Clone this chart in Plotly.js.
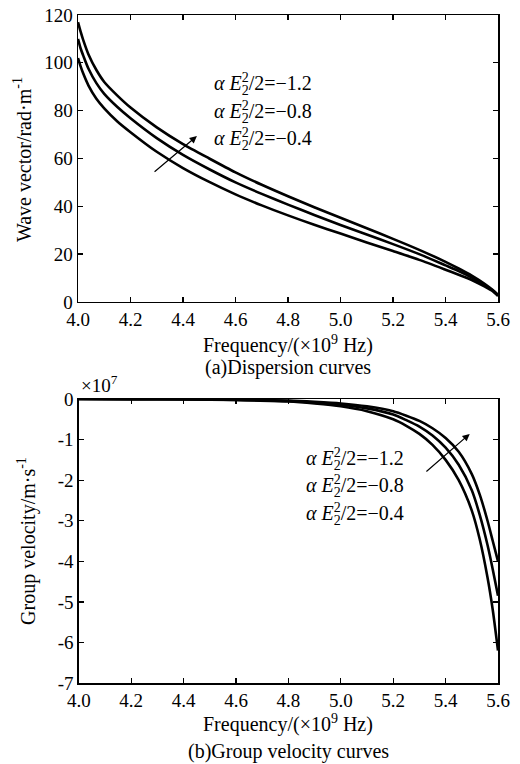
<!DOCTYPE html>
<html>
<head>
<meta charset="utf-8">
<script src="https://cdn.plot.ly/plotly-3.0.1.min.js"></script>
<style>html,body{margin:0;padding:0;background:#fff;}#chart{width:520px;height:764px;}</style>
</head>
<body>
<div id="chart"></div>
<script>
// ---- Data ----
const freqA = [4.0, 4.01, 4.02, 4.04, 4.07, 4.1, 4.15, 4.2, 4.3, 4.4, 4.5, 4.6, 4.7, 4.8, 4.9, 5.0, 5.1, 5.2, 5.3, 5.4, 5.45, 5.5, 5.55, 5.58, 5.6];
const waveUpper  = [117, 113, 109.5, 103.5, 97, 92, 86.3, 81.3, 73, 66, 60, 54.2, 49, 44.2, 39.6, 35.2, 30.8, 26.4, 21.8, 16.8, 14, 11, 7.5, 5, 3];
const waveMiddle = [110, 106, 103, 97.5, 91.5, 87, 81.5, 76.8, 68.5, 61.5, 55.5, 50, 45.2, 40.7, 36.4, 32.2, 28.2, 24.2, 20, 15.3, 12.9, 10.2, 7, 4.8, 2.8];
const waveLower  = [102, 98.5, 95.5, 90.5, 85, 81, 75.5, 71, 62.8, 56, 50.2, 45, 40.4, 36.2, 32.3, 28.6, 24.9, 21.3, 17.6, 13.5, 11.4, 9.2, 6.4, 4.5, 2.5];

const freqB = [4.0, 4.2, 4.4, 4.6, 4.8, 4.9, 5.0, 5.1, 5.2, 5.25, 5.3, 5.35, 5.4, 5.45, 5.5, 5.53, 5.56, 5.58, 5.6];
const gvUpper  = [0, -0.002, -0.005, -0.015, -0.04, -0.07, -0.11, -0.18, -0.3, -0.41, -0.54, -0.72, -0.96, -1.3, -1.85, -2.35, -3.0, -3.5, -4.0];
const gvMiddle = [0, -0.003, -0.007, -0.02, -0.05, -0.09, -0.14, -0.23, -0.38, -0.52, -0.68, -0.9, -1.2, -1.62, -2.25, -2.85, -3.6, -4.2, -4.85];
const gvLower  = [0, -0.004, -0.01, -0.025, -0.06, -0.11, -0.18, -0.3, -0.5, -0.66, -0.86, -1.13, -1.5, -2.0, -2.75, -3.45, -4.4, -5.2, -6.2];

const xTicks = [4.0, 4.2, 4.4, 4.6, 4.8, 5.0, 5.2, 5.4, 5.6];
const yTicksTop = [0, 20, 40, 60, 80, 100, 120];
const yTicksBottom = [0, -1, -2, -3, -4, -5, -6, -7];
const yTickTextBottom = ['0', '-1', '-2', '-3', '-4', '-5', '-6', '-7'];
const paramLabels = ['\u22121.2', '\u22120.8', '\u22120.4'];

// ---- Styling ----
const FONT = 'Liberation Serif, Times New Roman, serif';
const lineStyle = {color: '#000', width: 2.6, shape: 'spline', smoothing: 0.7};

function mk(x, y, xa, ya) {
  return {x: x, y: y, xaxis: xa, yaxis: ya, mode: 'lines', line: lineStyle, showlegend: false, hoverinfo: 'skip'};
}

const traces = [
  mk(freqA, waveUpper, 'x', 'y'),
  mk(freqA, waveMiddle, 'x', 'y'),
  mk(freqA, waveLower, 'x', 'y'),
  mk(freqB, gvUpper, 'x2', 'y2'),
  mk(freqB, gvMiddle, 'x2', 'y2'),
  mk(freqB, gvLower, 'x2', 'y2')
];

const axisCommon = {
  showgrid: false, zeroline: false, showline: true, linecolor: '#000', linewidth: 1.5,
  mirror: 'ticks', ticks: 'inside', ticklen: 5, tickcolor: '#000', tickwidth: 1.3,
  tickfont: {family: FONT, size: 19, color: '#000'}
};

function paramText(v) {
  return '<i>\u03b1</i> <i>E</i><sup><span style="letter-spacing:-0.5em">2</span></sup><sub>2</sub>/2=' + v;
}

const annotations = [];
const topY = [90.7, 79.0, 67.7];
const botY = [-1.50, -2.17, -2.86];
for (let i = 0; i < 3; i++) {
  annotations.push({xref: 'x', yref: 'y', x: 4.51, y: topY[i], xanchor: 'left', yanchor: 'middle',
    text: paramText(paramLabels[i]), showarrow: false, font: {family: FONT, size: 20, color: '#000'}});
  annotations.push({xref: 'x2', yref: 'y2', x: 4.86, y: botY[i], xanchor: 'left', yanchor: 'middle',
    text: paramText(paramLabels[i]), showarrow: false, font: {family: FONT, size: 20, color: '#000'}});
}
// arrows
annotations.push({xref: 'x', yref: 'y', axref: 'x', ayref: 'y', x: 4.453, y: 69.4, ax: 4.286, ay: 53.9,
  showarrow: true, arrowhead: 2, arrowsize: 1.2, arrowwidth: 1.2, arrowcolor: '#000', text: ''});
annotations.push({xref: 'x2', yref: 'y2', axref: 'x2', ayref: 'y2', x: 5.492, y: -0.86, ax: 5.321, ay: -1.82,
  showarrow: true, arrowhead: 2, arrowsize: 1.2, arrowwidth: 1.2, arrowcolor: '#000', text: ''});
// axis titles and captions
const tf = {family: FONT, size: 20, color: '#000'};
annotations.push({xref: 'paper', yref: 'paper', x: 0.5, y: 0.507, xanchor: 'center', yanchor: 'middle', showarrow: false,
  text: 'Frequency/(\u00d710<sup>9</sup> Hz)', font: tf});
annotations.push({xref: 'paper', yref: 'paper', x: 0.5, y: 0.472, xanchor: 'center', yanchor: 'middle', showarrow: false,
  text: '(a)Dispersion curves', font: tf});
annotations.push({xref: 'paper', yref: 'paper', x: 0.5, y: -0.060, xanchor: 'center', yanchor: 'middle', showarrow: false,
  text: 'Frequency/(\u00d710<sup>9</sup> Hz)', font: tf});
annotations.push({xref: 'paper', yref: 'paper', x: 0.5, y: -0.103, xanchor: 'center', yanchor: 'middle', showarrow: false,
  text: '(b)Group velocity curves', font: tf});
annotations.push({xref: 'paper', yref: 'paper', x: -0.133, y: 0.783, xanchor: 'center', yanchor: 'middle', showarrow: false,
  textangle: -90, text: 'Wave vector/rad\u00b7m<sup>-1</sup>', font: tf});
annotations.push({xref: 'paper', yref: 'paper', x: -0.121, y: 0.213, xanchor: 'center', yanchor: 'middle', showarrow: false,
  textangle: -90, text: 'Group velocity/m\u00b7s<sup>-1</sup>', font: tf});
annotations.push({xref: 'paper', yref: 'paper', x: 0.003, y: 0.447, xanchor: 'left', yanchor: 'middle', showarrow: false,
  text: '\u00d710<sup>7</sup>', font: {family: FONT, size: 19, color: '#000'}});

const layout = {
  width: 520, height: 764,
  margin: {l: 78, r: 22, t: 15, b: 81},
  paper_bgcolor: '#fff', plot_bgcolor: '#fff',
  font: {family: FONT, color: '#000'},
  xaxis: Object.assign({}, axisCommon, {domain: [0, 1], range: [4.0, 5.6], tickvals: xTicks, tickformat: '.1f', anchor: 'y'}),
  yaxis: Object.assign({}, axisCommon, {domain: [0.5704, 1], range: [0, 120], tickvals: yTicksTop, anchor: 'x'}),
  xaxis2: Object.assign({}, axisCommon, {domain: [0.002, 1], range: [4.0, 5.6], tickvals: xTicks, tickformat: '.1f', anchor: 'y2'}),
  yaxis2: Object.assign({}, axisCommon, {domain: [0, 0.4251], range: [-7, 0], tickvals: yTicksBottom, ticktext: yTickTextBottom, anchor: 'x2'}),
  annotations: annotations
};

Plotly.newPlot('chart', traces, layout, {staticPlot: true, displayModeBar: false});
</script>
</body>
</html>
